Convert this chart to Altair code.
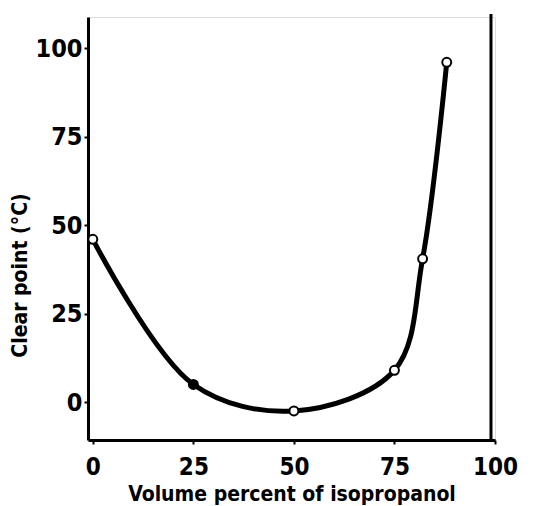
import altair as alt
import pandas as pd

vol = [0, 25, 50, 75, 82, 88]
clear = [46, 5, -2.5, 9, 40.5, 96]
filled = [False, True, False, False, False, False]

df = pd.DataFrame({"vol": vol, "clear": clear, "filled": filled})

FONT = "DejaVu Sans Condensed"

xs = alt.Scale(domain=[-1.2, 100], nice=False, zero=False)
ys = alt.Scale(domain=[-10.7, 108.8], nice=False, zero=False)

line = alt.Chart(df).mark_line(
    interpolate="catmull-rom", color="black", strokeWidth=5, strokeCap="round"
).encode(
    x=alt.X("vol:Q", scale=xs, axis=alt.Axis(
        values=[0, 25, 50, 75, 100], title="Volume percent of  isopropanol",
        grid=False, domainColor="black", domainWidth=3, tickColor="black",
        tickWidth=2, tickSize=4, labelFont=FONT, labelFontWeight="bold",
        labelFontSize=24, labelColor="black", labelPadding=11,
        titleFont=FONT, titleFontWeight="bold", titleFontSize=21,
        titleColor="black", titleY=60, titleBaseline="alphabetic",
        labelFlush=False)),
    y=alt.Y("clear:Q", scale=ys, axis=alt.Axis(
        values=[0, 25, 50, 75, 100], title="Clear point  (°C)",
        grid=False, domainColor="black", domainWidth=3, tickColor="black",
        tickWidth=2, tickSize=4, labelFont=FONT, labelFontWeight="bold",
        labelFontSize=25, labelColor="black", labelPadding=2,
        titleFont=FONT, titleFontWeight="bold", titleFontSize=21,
        titleColor="black", titleX=-58, titleY=258, labelFlush=False)),
)

pts = alt.Chart(df).mark_point(
    shape="circle", size=80, stroke="black", strokeWidth=2, opacity=1
).encode(
    x=alt.X("vol:Q", scale=xs),
    y=alt.Y("clear:Q", scale=ys),
    fill=alt.condition("datum.filled", alt.value("black"), alt.value("white")),
)

right = alt.Chart(pd.DataFrame({"x": [99]})).mark_rule(
    color="black", strokeWidth=3
).encode(x=alt.X("x:Q", scale=xs), y=alt.value(-3), y2=alt.value(423))

chart = (line + pts + right).properties(
    width=407, height=423,
    autosize=alt.AutoSizeParams(type="none"),
    padding={"left": 80, "top": 9, "right": 30, "bottom": 66},
).configure_view(stroke=None).configure(background="white")

chart.save("out.html", embed_options={"renderer": "svg", "actions": False})
